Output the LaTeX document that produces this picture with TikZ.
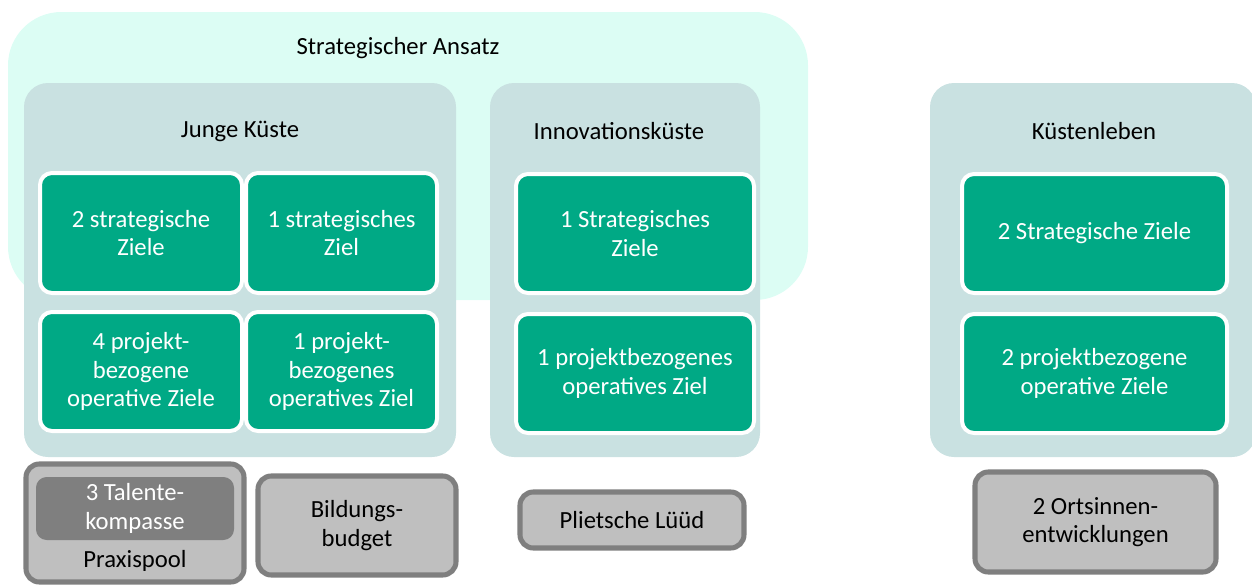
\documentclass[tikz,border=0pt]{standalone}
\usepackage{fontspec}
\setmainfont{Carlito}
\definecolor{ansatz}{HTML}{DCFDF4}
\definecolor{panel}{HTML}{C9E1E1}
\definecolor{goal}{HTML}{00A985}
\definecolor{lgray}{HTML}{BFBFBF}
\definecolor{dgray}{HTML}{7F7F7F}
\tikzset{
  sz/.style 2 args={minimum width=#1*0.75pt, minimum height=#2*0.75pt},
  fnt/.style={font=\fontsize{18.5}{21.5}\selectfont, align=center},
  txt/.style={fnt, text=black},
  ansatzbox/.style={fill=ansatz, rounded corners=40pt, inner sep=0pt},
  panelbox/.style={fill=panel, rounded corners=18pt, inner sep=0pt},
  goalbox/.style={fill=goal, draw=white, line width=3pt, rounded corners=9pt, inner sep=0pt,
    fnt, text=white},
  graybox/.style={fill=lgray, draw=dgray, line width=3.8pt, rounded corners=10pt, inner sep=0pt,
    fnt, text=black},
  darkbox/.style={fill=dgray, rounded corners=8pt, inner sep=0pt, fnt, text=white},
}
\begin{document}
\begin{tikzpicture}[x=0.75pt, y=-0.75pt]
\useasboundingbox (0,0) rectangle (1252,586);
% strategic approach
\node[ansatzbox, sz={800}{288}] (ansatz) at (408,156) {};
\node[txt] (ansatzlbl) at (398,48) {Strategischer Ansatz};
% panels
\node[panelbox, sz={432}{374}] (jk) at (240,270) {};
\node[panelbox, sz={270}{374}] (ik) at (625,270) {};
\node[panelbox, sz={326}{374}] (kl) at (1093,270) {};
\node[txt] (jklbl) at (240,131) {Junge Küste};
\node[txt] (iklbl) at (619,131) {Innovationsküste};
\node[txt] (kllbl) at (1094,131) {Küstenleben};
% goals
\node[goalbox, sz={202}{120}] (jk1) at (141,233) {2 strategische\\Ziele};
\node[goalbox, sz={191}{120}] (jk2) at (341.5,233) {1 strategisches\\Ziel};
\node[goalbox, sz={202}{119}] (jk3) at (141,371.5) {4 projekt-\\bezogene\\operative Ziele};
\node[goalbox, sz={191}{119}] (jk4) at (341.5,371.5) {1 projekt-\\bezogenes\\operatives Ziel};
\node[goalbox, sz={238}{119}] (ik1) at (635,233.5) {1 Strategisches\\Ziele};
\node[goalbox, sz={238}{119}] (ik2) at (635,373.5) {1 projektbezogenes\\operatives Ziel};
\node[goalbox, sz={265}{119}] (kl1) at (1094.5,233.5) {2 Strategische Ziele};
\node[goalbox, sz={265}{119}] (kl2) at (1094.5,373.5) {2 projektbezogene\\operative Ziele};
% gray boxes
\node[graybox, sz={218}{118}] (praxis) at (135,523) {};
\node[darkbox, sz={198}{63}] (talent) at (135,508.5) {3 Talente-\\kompasse};
\node[txt] (praxislbl) at (135,561) {Praxispool};
\node[graybox, sz={198}{99}] (bildung) at (357,525.5) {Bildungs-\\budget};
\node[graybox, sz={224}{56}] (pliet) at (632,520) {Plietsche Lüüd};
\node[graybox, sz={241}{100}] (orts) at (1095.5,522) {2 Ortsinnen-\\entwicklungen};
\end{tikzpicture}
\end{document}
